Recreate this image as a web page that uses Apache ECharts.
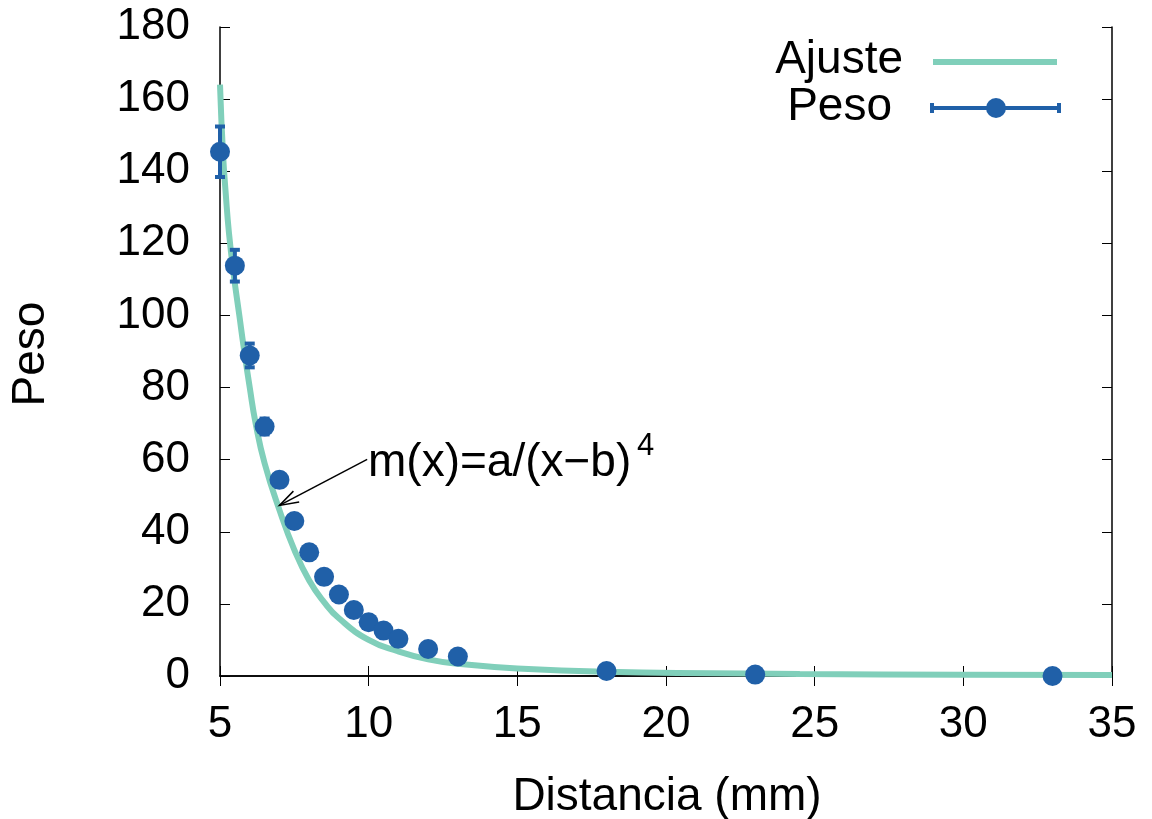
<!DOCTYPE html>
<html>
<head>
<meta charset="utf-8">
<script src="https://cdn.jsdelivr.net/npm/echarts@6/dist/echarts.min.js"></script>
<style>
    html, body {margin: 0; padding: 0; background: #fff}
    #chart {width: 1152px; height: 819px}
</style>
</head>
<body>
<div id="chart"></div>
<script>
// medidas (distancia en mm, peso y su error)
const distancia = [5, 5.5, 6, 6.5, 7, 7.5, 8, 8.5, 9, 9.5, 10, 10.5, 11, 12, 13, 18, 23, 33]
const peso = [145.4, 113.8, 88.9, 69.2, 54.4, 43.0, 34.3, 27.5, 22.6, 18.3, 14.9, 12.6, 10.3, 7.5, 5.4, 1.4, 0.4, 0.0]
const pesoErr = [7, 4.4, 3.3, 2.2, 1.8, 1.5, 1.2, 1.0, 0.9, 0.8, 0.7, 0.6, 0.5, 0.4, 0.3, 0.2, 0.1, 0.1]

// curva de ajuste
const ajusteX = [5.0, 5.1, 5.2, 5.3, 5.45, 5.65, 5.8, 6.0, 6.2, 6.5, 7.0, 7.5, 8.0, 8.5, 9.0, 10, 11, 12, 13, 15, 18, 24.5, 30, 35]
const ajusteY = [164, 145, 133, 123, 112, 100, 91, 80, 70, 59, 46, 35, 26.5, 20.5, 16, 10, 6.8, 4.6, 3.4, 2.1, 1.2, 0.55, 0.35, 0.25]

// flecha de la anotacion (coordenadas de datos)
const flechaDesde = [9.95, 60.1]
const flechaHasta = [7.0, 47.3]

const FONT = 'Liberation Sans, Arial, sans-serif'
const PESO_COLOR = '#2060a8'
const AJUSTE_COLOR = '#80cfba'

const chart = echarts.init(document.getElementById('chart'))

const axisLine = {show: true, lineStyle: {color: '#000', width: 1.5}}
const axisTick = {show: true, inside: true, length: 10, lineStyle: {color: '#000', width: 1}}

const errData = distancia.map((x, i) => [x, peso[i] - pesoErr[i], peso[i] + pesoErr[i]])

chart.setOption({
    animation: false,
    grid: {left: 220, right: 40, top: 27, bottom: 143},
    xAxis: [
        {
            type: 'value', min: 5, max: 35, interval: 5, position: 'bottom',
            axisLine, axisTick, splitLine: {show: false},
            axisLabel: {fontSize: 44, color: '#000', fontFamily: FONT, margin: 27}
        },
        {
            type: 'value', min: 5, max: 35, interval: 5, position: 'top',
            axisLine, axisTick, splitLine: {show: false}, axisLabel: {show: false}
        }
    ],
    yAxis: [
        {
            type: 'value', min: 0, max: 180, interval: 20, position: 'left',
            axisLine, axisTick, splitLine: {show: false},
            axisLabel: {fontSize: 44, color: '#000', fontFamily: FONT, margin: 30}
        },
        {
            type: 'value', min: 0, max: 180, interval: 20, position: 'right',
            axisLine, axisTick, splitLine: {show: false}, axisLabel: {show: false}
        }
    ],
    series: [
        {
            name: 'Ajuste',
            type: 'line',
            data: ajusteX.map((x, i) => [x, ajusteY[i]]),
            smooth: 0.5,
            showSymbol: false,
            lineStyle: {color: AJUSTE_COLOR, width: 6},
            z: 1
        },
        {
            name: 'PesoErr',
            type: 'custom',
            data: errData,
            encode: {x: 0, y: [1, 2]},
            clip: false,
            z: 2,
            renderItem: (params, api) => {
                const x = api.value(0)
                const lo = api.coord([x, api.value(1)])
                const hi = api.coord([x, api.value(2)])
                const w = 5
                const style = {stroke: PESO_COLOR, lineWidth: 4}
                return {
                    type: 'group', children: [
                        {type: 'line', shape: {x1: lo[0], y1: lo[1], x2: hi[0], y2: hi[1]}, style},
                        {type: 'line', shape: {x1: lo[0] - w, y1: lo[1], x2: lo[0] + w, y2: lo[1]}, style},
                        {type: 'line', shape: {x1: hi[0] - w, y1: hi[1], x2: hi[0] + w, y2: hi[1]}, style}
                    ]
                }
            }
        },
        {
            name: 'Peso',
            type: 'scatter',
            data: distancia.map((x, i) => [x, peso[i]]),
            symbolSize: 20,
            clip: false,
            itemStyle: {color: PESO_COLOR, opacity: 1},
            z: 3
        }
    ]
})

// anotacion, flecha, leyenda y titulos de ejes
const p0 = chart.convertToPixel({gridIndex: 0}, flechaDesde)
const p1 = chart.convertToPixel({gridIndex: 0}, flechaHasta)
const ang = Math.atan2(p0[1] - p1[1], p0[0] - p1[0])
const headLen = 20, headAng = 18 * Math.PI / 180
const h1 = [p1[0] + headLen * Math.cos(ang - headAng), p1[1] + headLen * Math.sin(ang - headAng)]
const h2 = [p1[0] + headLen * Math.cos(ang + headAng), p1[1] + headLen * Math.sin(ang + headAng)]

const textStyle = (text, size, align) => ({text, fontSize: size, fontFamily: FONT, fill: '#000', align, verticalAlign: 'middle'})

chart.setOption({
    graphic: [
        {type: 'line', shape: {x1: p0[0], y1: p0[1], x2: p1[0], y2: p1[1]}, style: {stroke: '#000', lineWidth: 1.5}, z: 10},
        {type: 'polyline', shape: {points: [h1, p1, h2]}, style: {stroke: '#000', lineWidth: 1.5, fill: null}, z: 10},
        {type: 'text', x: 368, y: 463, style: textStyle('m(x)=a/(x\u2212b)', 46, 'left'), z: 10},
        {type: 'text', x: 637, y: 446, style: textStyle('4', 31, 'left'), z: 10},

        {type: 'text', x: 903, y: 60, style: textStyle('Ajuste', 46, 'right'), z: 10},
        {type: 'line', shape: {x1: 933, y1: 62, x2: 1057, y2: 62}, style: {stroke: AJUSTE_COLOR, lineWidth: 6}, z: 10},
        {type: 'text', x: 892, y: 107, style: textStyle('Peso', 46, 'right'), z: 10},
        {type: 'line', shape: {x1: 932, y1: 108, x2: 1059, y2: 108}, style: {stroke: PESO_COLOR, lineWidth: 4}, z: 10},
        {type: 'line', shape: {x1: 932, y1: 103, x2: 932, y2: 113}, style: {stroke: PESO_COLOR, lineWidth: 4}, z: 10},
        {type: 'line', shape: {x1: 1059, y1: 103, x2: 1059, y2: 113}, style: {stroke: PESO_COLOR, lineWidth: 4}, z: 10},
        {type: 'circle', shape: {cx: 996, cy: 108, r: 10}, style: {fill: PESO_COLOR}, z: 10},

        {type: 'text', x: 667, y: 797, style: textStyle('Distancia (mm)', 46, 'center'), z: 10},
        {type: 'text', x: 31, y: 354, rotation: Math.PI / 2, style: textStyle('Peso', 46, 'center'), z: 10}
    ]
})
</script>
</body>
</html>
